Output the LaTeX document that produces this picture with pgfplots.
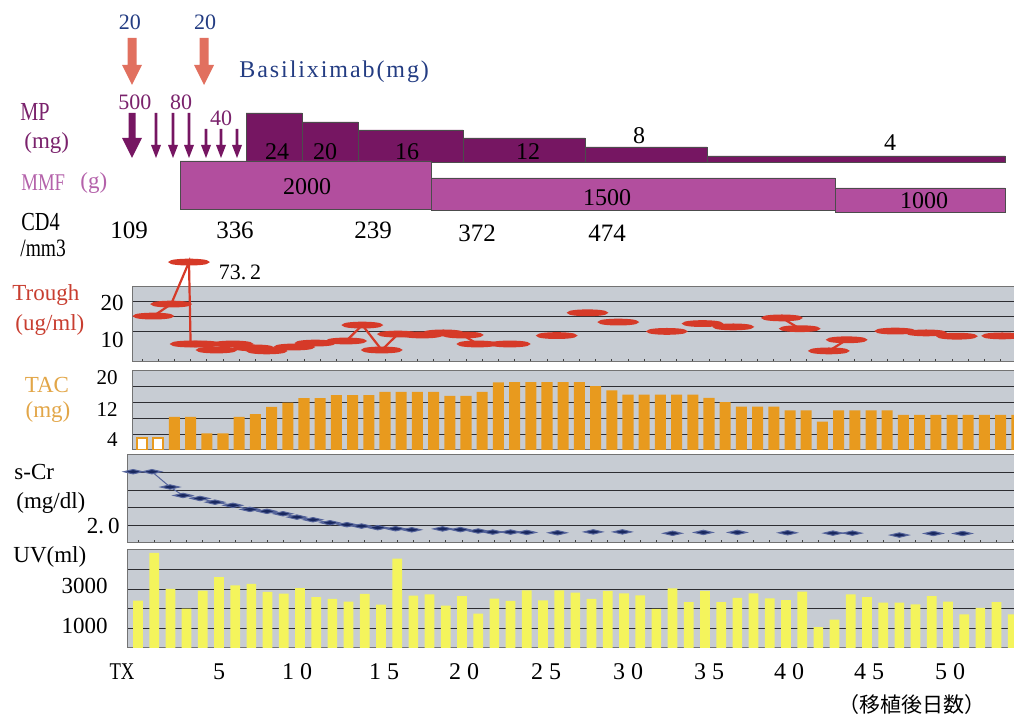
\documentclass[border=0pt]{standalone}
\usepackage{pgfplots}
\pgfplotsset{compat=1.18}
\usepackage{fontspec}
\setmainfont{Liberation Serif}
\newfontfamily\narrowf[FakeStretch=0.78]{Liberation Serif}
\newfontfamily\jp{Noto Sans CJK JP}
\definecolor{panelbg}{RGB}{199,204,211}
\definecolor{gridc}{RGB}{45,45,50}
\definecolor{troughred}{RGB}{214,58,40}
\definecolor{troughlab}{RGB}{200,62,48}
\definecolor{tacor}{RGB}{232,154,30}
\definecolor{taclab}{RGB}{226,166,72}
\definecolor{uvyel}{RGB}{244,244,92}
\definecolor{crnavy}{RGB}{25,40,95}
\definecolor{crline}{RGB}{85,100,155}
\definecolor{mpdark}{RGB}{118,22,98}
\definecolor{mmfpink}{RGB}{178,78,158}
\definecolor{mplab}{RGB}{122,34,108}
\definecolor{mmflab}{RGB}{180,98,170}
\definecolor{basired}{RGB}{225,112,95}
\definecolor{basiblue}{RGB}{35,60,130}
\newcommand{\fs}[1]{\fontsize{#1}{#1}\selectfont}
\pgfplotsset{
  panel/.style={
    scale only axis, anchor=south west,
    axis background/.style={fill=panelbg},
    axis line style={draw=black!55, line width=0.5pt},
    ymajorgrids, grid style={draw=gridc, line width=0.5pt},
    xtick={0,...,54}, xticklabels={}, xtick pos=left, tick align=inside,
    major tick length=1.6pt, tick style={draw=black!75, line width=0.4pt},
    ytick pos=left, yticklabels={}, ytick style={draw=none},
  },
}
\tikzset{lab/.style={inner sep=0pt, font=\fs{11.5}}}
\begin{document}
\begin{tikzpicture}
\useasboundingbox (0,0) rectangle (507pt,358.5pt);

% ---------------- Trough ----------------
\begin{axis}[panel, at={(66.5pt,177.5pt)}, width=441.5pt, height=37.5pt,
  xmin=-0.556, xmax=53.95, ymin=0, ymax=25, ytick={10,15,20},
  clip=false, unbounded coords=jump]
% the 73.2 value is drawn off-scale above the panel, as in the original (position 33.3)
\addplot[draw=troughred, line width=1.1pt, mark=*, mark size=1.15pt,
  mark options={xscale=8.2, fill=troughred, draw=none}] coordinates {
(0.7,15.3)(1.8,19.3)(2.9,33.3)(3.0,6.0)(3.6,6.0)(4.6,4.0)(5.6,6.0)(6.9,4.7)(7.7,3.7)
(9.4,5.0)(10.7,6.3)(12.6,7.0)(13.6,12.3)(14.8,4.0)(15.8,9.3)(17.3,9.0)(18.6,9.7)
(19.8,9.0)(20.7,6.0)(22.7,6.0)
(24,nan)
(25.6,8.8)
(26.5,nan)
(27.5,16.4)
(28.5,nan)
(29.4,13.3)
(31,nan)
(32.4,10.2)
(33.5,nan)
(34.6,12.8)
(35.5,nan)
(36.5,11.7)
(38,nan)
(39.5,14.7)(40.6,11.1)
(41.5,nan)
(42.4,3.7)(43.5,7.4)
(45,nan)
(46.5,10.3)
(47.5,nan)
(48.4,9.7)
(49.5,nan)
(50.3,8.6)
(51.5,nan)
(53.1,8.7)
};
\end{axis}

% ---------------- TAC ----------------
\begin{axis}[panel, at={(66.5pt,133.5pt)}, width=441.5pt, height=39.5pt,
  xmin=-0.556, xmax=53.95, ymin=0, ymax=20, ytick={4,8,12,16}]
\addplot[ybar, bar width=0.62, fill=white, draw=tacor, line width=0.9pt] coordinates {(0,3.1)(1,3.1)};
\addplot[ybar, bar width=0.68, fill=tacor, draw=none] coordinates {
(2,8.4)(3,8.4)(4,4.2)(5,4.2)(6,8.4)(7,9.1)(8,10.9)(9,12.0)(10,13.1)(11,13.1)(12,13.9)(13,13.9)
(14,13.9)(15,14.7)(16,14.7)(17,14.7)(18,14.7)(19,13.7)(20,13.7)(21,14.7)(22,17.1)(23,17.2)
(24,17.2)(25,17.2)(26,17.2)(27,17.2)(28,16.2)(29,15.1)(30,14.0)(31,14.0)(32,14.0)(33,14.0)
(34,14.0)(35,13.2)(36,12.1)(37,11.0)(38,11.0)(39,11.0)(40,10.0)(41,10.0)(42,7.2)(43,10.0)
(44,10.0)(45,10.0)(46,10.0)(47,8.9)(48,8.9)(49,8.9)(50,8.9)(51,8.9)(52,8.9)(53,8.9)(54,8.9)
};
\end{axis}

% ---------------- s-Cr ----------------
\begin{axis}[panel, at={(64pt,87pt)}, width=444pt, height=44pt,
  xmin=-0.617, xmax=54.2, ymin=1, ymax=6, ytick={2,3,4,5}, unbounded coords=jump]
\addplot[draw=crline, line width=0.5pt, mark=diamond*, mark size=1.3pt,
  mark options={xscale=4.8, yscale=0.85, fill=crnavy, draw=none}] coordinates {
(-0.3,5.05)(0.86,5.05)(1.98,4.18)(2.78,3.70)(3.83,3.53)(4.75,3.32)(5.86,3.14)(6.91,2.91)
(7.96,2.80)(8.95,2.66)(9.81,2.47)(10.8,2.32)(11.85,2.15)(12.9,2.04)(13.8,1.96)(14.8,1.87)
(15.9,1.81)(16.9,1.75)
(17.9,nan)
(18.8,1.8)(19.9,1.76)(21,1.68)(21.9,1.62)(23,1.62)(24,1.6)
(25,nan)
(25.9,1.58)
(27,nan)
(28.1,1.63)
(29,nan)
(29.9,1.63)
(31,nan)
(33,1.55)
(34,nan)
(34.9,1.6)
(36,nan)
(37,1.6)
(38.5,nan)
(40.1,1.58)
(41.5,nan)
(42.9,1.56)(44.1,1.56)
(45.5,nan)
(47,1.45)
(48,nan)
(49.1,1.54)
(50,nan)
(50.9,1.54)
};
\end{axis}

% ---------------- UV ----------------
\begin{axis}[panel, at={(64pt,34.5pt)}, width=444pt, height=49pt,
  xmin=-0.617, xmax=54.2, ymin=0, ymax=5000, ytick={1000,2000,3000,4000}]
\addplot[ybar, bar width=0.6, fill=uvyel, draw=none] coordinates {
(0,2420)(1,4850)(2,3010)(3,2010)(4,2930)(5,3610)(6,3200)(7,3270)(8,2860)(9,2770)(10,3060)
(11,2600)(12,2500)(13,2370)(14,2760)(15,2210)(16,4560)(17,2670)(18,2740)(19,2160)(20,2640)
(21,1750)(22,2520)(23,2400)(24,2940)(25,2430)(26,2940)(27,2820)(28,2510)(29,2910)(30,2790)
(31,2680)(32,2000)(33,3040)(34,2340)(35,2910)(36,2340)(37,2560)(38,2790)(39,2530)(40,2440)
(41,2870)(42,1060)(43,1450)(44,2740)(45,2600)(46,2310)(47,2310)(48,2220)(49,2650)(50,2360)
(51,1710)(52,2050)(53,2340)(54,1710)
};
\end{axis}

% ---------------- overlay: regimen blocks, arrows, labels ----------------
\begin{axis}[at={(0pt,0pt)}, anchor=south west, scale only axis, width=507pt, height=358.5pt,
  xmin=0, xmax=1014, ymin=0, ymax=717, y dir=reverse, axis lines=none, clip=false]
% Basiliximab arrows
\addplot[fill=basired, draw=none] coordinates {(127.5,38)(136.5,38)(136.5,65)(142,65)(132,85)(122,65)(127.5,65)};
\addplot[fill=basired, draw=none] coordinates {(199.5,38)(208.5,38)(208.5,65)(214,65)(204,85)(194,65)(199.5,65)};
% MP pulse arrows
\addplot[fill=mpdark, draw=none] coordinates {(128.5,113)(135.5,113)(135.5,138)(142,138)(132,158)(122,138)(128.5,138)};
\addplot[fill=mpdark, draw=none] coordinates {(154.7,113)(157.3,113)(157.3,145)(161,145)(156,158)(151,145)(154.7,145)};
\addplot[fill=mpdark, draw=none] coordinates {(171.7,113)(174.3,113)(174.3,145)(178,145)(173,158)(168,145)(171.7,145)};
\addplot[fill=mpdark, draw=none] coordinates {(187.7,113)(190.3,113)(190.3,145)(194,145)(189,158)(184,145)(187.7,145)};
\addplot[fill=mpdark, draw=none] coordinates {(204.7,129)(207.3,129)(207.3,145)(211,145)(206,158)(201,145)(204.7,145)};
\addplot[fill=mpdark, draw=none] coordinates {(219.7,129)(222.3,129)(222.3,145)(226,145)(221,158)(216,145)(219.7,145)};
\addplot[fill=mpdark, draw=none] coordinates {(235.7,129)(238.3,129)(238.3,145)(242,145)(237,158)(232,145)(235.7,145)};
% MP oral dose blocks
\addplot[fill=mpdark, draw=black!70, line width=0.4pt] coordinates {(246,162)(246,113)(302,113)(302,162)(246,162)};
\addplot[fill=mpdark, draw=black!70, line width=0.4pt] coordinates {(302,162)(302,122)(358,122)(358,162)(302,162)};
\addplot[fill=mpdark, draw=black!70, line width=0.4pt] coordinates {(358,162)(358,130)(463,130)(463,162)(358,162)};
\addplot[fill=mpdark, draw=black!70, line width=0.4pt] coordinates {(463,162)(463,138)(585,138)(585,162)(463,162)};
\addplot[fill=mpdark, draw=black!70, line width=0.4pt] coordinates {(585,162)(585,147)(707,147)(707,162)(585,162)};
\addplot[fill=mpdark, draw=black!70, line width=0.4pt] coordinates {(707,162)(707,156)(1005,156)(1005,162)(707,162)};
% MMF blocks
\addplot[fill=mmfpink, draw=black!70, line width=0.4pt] coordinates {(180,209)(180,161)(431,161)(431,209)(180,209)};
\addplot[fill=mmfpink, draw=black!70, line width=0.4pt] coordinates {(431,210)(431,178)(835,178)(835,210)(431,210)};
\addplot[fill=mmfpink, draw=black!70, line width=0.4pt] coordinates {(835,212)(835,188)(1005,188)(1005,212)(835,212)};

% top texts
\node[lab, font=\fs{11}, text=basiblue] at (130,22) {20};
\node[lab, font=\fs{11}, text=basiblue] at (205,22) {20};
\node[lab, anchor=west, text=basiblue, font=\fs{12}\addfontfeatures{LetterSpace=8}] at (239,72) {Basiliximab(mg)};
\node[lab, font=\fs{11}, text=mplab] at (135,102) {500};
\node[lab, font=\fs{11}, text=mplab] at (181,102) {80};
\node[lab, font=\fs{11}, text=mplab] at (221,118) {40};
\node[lab, font=\fs{12}] at (277,152) {24};
\node[lab, font=\fs{12}] at (325,152) {20};
\node[lab, font=\fs{12}] at (407,152) {16};
\node[lab, font=\fs{12}] at (528,152) {12};
\node[lab, font=\fs{12}] at (639,136) {8};
\node[lab, font=\fs{12}] at (890,143) {4};
\node[lab, font=\fs{12}] at (307,187) {2000};
\node[lab, font=\fs{12}] at (607,198) {1500};
\node[lab, font=\fs{12}] at (924,201) {1000};
\node[lab, font=\fs{12.5}] at (129,230) {109};
\node[lab, font=\fs{12.5}] at (235,230) {336};
\node[lab, font=\fs{12.5}] at (373,230) {239};
\node[lab, font=\fs{12.5}] at (477,233) {372};
\node[lab, font=\fs{12.5}] at (607,233) {474};
% left labels
\node[lab, anchor=west, text=mplab, font=\narrowf\fs{13}] at (20,112) {MP};
\node[lab, anchor=west, text=mplab] at (24,143) {(mg)};
\node[lab, anchor=west, text=mmflab, font=\narrowf\fs{12}] at (21,183) {MMF};
\node[lab, anchor=west, text=mmflab, font=\fs{11.5}] at (80,183) {(g)};
\node[lab, anchor=west, font=\narrowf\fs{13}] at (21,222) {CD4};
\node[lab, anchor=west, font=\narrowf\fs{12.5}] at (20,248) {/mm3};
\node[lab, font=\fs{11}] at (240,272) {73.\hspace{2pt}2};
\node[lab, anchor=west, text=troughlab] at (12,295) {Trough};
\node[lab, anchor=west, text=troughlab] at (15,325) {(ug/ml)};
\node[lab, anchor=east] at (124,303) {20};
\node[lab, anchor=east] at (124,340) {10};
\node[lab, text=taclab] at (47,385) {TAC};
\node[lab, text=taclab] at (48,412) {(mg)};
\node[lab, anchor=east, font=\fs{10.5}] at (118,378) {20};
\node[lab, anchor=east, font=\fs{10.5}] at (118,410) {12};
\node[lab, anchor=east, font=\fs{10.5}] at (118,440) {4};
\node[lab, anchor=west] at (14,472) {s-Cr};
\node[lab, anchor=west] at (16,503) {(mg/dl)};
\node[lab, anchor=east] at (120,526) {2.\hspace{2pt}0};
\node[lab, anchor=west] at (13,557) {UV(ml)};
\node[lab, anchor=east] at (108,586) {3000};
\node[lab, anchor=east] at (108,626) {1000};
% x labels
\node[lab, font=\narrowf\fs{12}] at (122,672) {TX};
\node[lab, font=\fs{12}] at (219,672) {5};
\node[lab, font=\fs{12}] at (297,672) {1\hspace{3pt}0};
\node[lab, font=\fs{12}] at (384,672) {1\hspace{3pt}5};
\node[lab, font=\fs{12}] at (464,672) {2\hspace{3pt}0};
\node[lab, font=\fs{12}] at (546,672) {2\hspace{3pt}5};
\node[lab, font=\fs{12}] at (628,672) {3\hspace{3pt}0};
\node[lab, font=\fs{12}] at (709,672) {3\hspace{3pt}5};
\node[lab, font=\fs{12}] at (789,672) {4\hspace{3pt}0};
\node[lab, font=\fs{12}] at (869,672) {4\hspace{3pt}5};
\node[lab, font=\fs{12}] at (950,672) {5\hspace{3pt}0};
\node[lab, font=\jp\fs{10.5}] at (912,705) {（移植後日数）};
\end{axis}
\end{tikzpicture}
\end{document}
